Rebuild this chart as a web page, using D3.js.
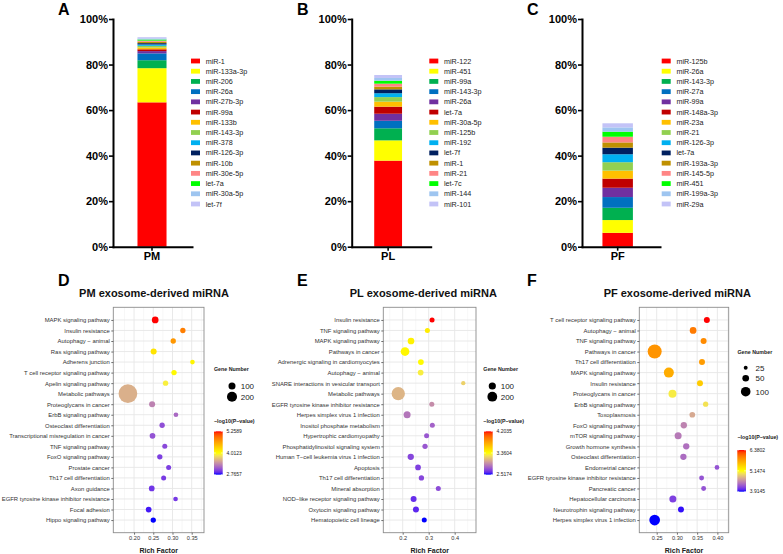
<!DOCTYPE html>
<html><head><meta charset="utf-8">
<script src="https://cdn.jsdelivr.net/npm/d3@7"></script>
<style>
body{margin:0;background:#fff}
svg{display:block}
text{font-family:"Liberation Sans",Arial,Helvetica,sans-serif}
</style>
</head><body>
<svg id="chart" width="783" height="554"></svg>
<script>
// ---------------- DATA ----------------
const barYTicks = [0, 20, 40, 60, 80, 100];
const barColors = ["#FF0000","#FFFF00","#00B050","#0070C0","#7030A0","#C00000","#FFC000","#92D050","#00B0F0","#002060","#BF9000","#FF8585","#00FF00","#9EC5F0","#C3C3F7"];

const pmCategory = ["PM"];
const pmMirnas = ["miR-1","miR-133a-3p","miR-206","miR-26a","miR-27b-3p","miR-99a","miR-133b","miR-143-3p","miR-378","miR-126-3p","miR-10b","miR-30e-5p","let-7a","miR-30a-5p","let-7f"];
const pmValues = [63.4, 15.0, 3.5, 3.0, 1.0, 0.8, 0.8, 0.7, 0.6, 0.6, 0.6, 0.5, 0.5, 0.5, 0.5];

const plCategory = ["PL"];
const plMirnas = ["miR-122","miR-451","miR-99a","miR-143-3p","miR-26a","let-7a","miR-30a-5p","miR-125b","miR-192","let-7f","miR-1","miR-21","let-7c","miR-144","miR-101"];
const plValues = [37.8, 8.9, 5.3, 3.3, 3.1, 3.1, 2.2, 2.0, 1.7, 1.7, 1.2, 1.3, 1.3, 1.2, 1.3];

const pfCategory = ["PF"];
const pfMirnas = ["miR-125b","miR-26a","miR-143-3p","miR-27a","miR-99a","miR-148a-3p","miR-23a","miR-21","miR-126-3p","let-7a","miR-193a-3p","miR-145-5p","miR-451","miR-199a-3p","miR-29a"];
const pfValues = [6.1, 5.6, 5.4, 4.7, 4.1, 4.0, 3.5, 3.7, 3.5, 2.9, 2.3, 2.5, 2.2, 1.9, 1.8];

// Dot plot D (PM)
const pmTerms = ["MAPK signaling pathway","Insulin resistance","Autophagy \u2212 animal","Ras signaling pathway","Adherens junction","T cell receptor signaling pathway","Apelin signaling pathway","Metabolic pathways","Proteoglycans in cancer","ErbB signaling pathway","Osteoclast differentiation","Transcriptional misregulation in cancer","TNF signaling pathway","FoxO signaling pathway","Prostate cancer","Th17 cell differentiation","Axon guidance","EGFR tyrosine kinase inhibitor resistance","Focal adhesion","Hippo signaling pathway"];
const pmRich = [0.255, 0.327, 0.302, 0.251, 0.352, 0.304, 0.282, 0.184, 0.247, 0.309, 0.273, 0.248, 0.280, 0.267, 0.290, 0.277, 0.246, 0.308, 0.238, 0.250];
const pmGenes = [92, 64, 64, 77, 54, 64, 64, 743, 77, 54, 64, 71, 59, 64, 59, 59, 71, 54, 71, 64];
const pmLogP = [5.2589, 4.85, 4.7, 4.2, 4.08, 4.05, 3.93, 3.6, 3.35, 3.22, 3.08, 3.1, 3.05, 3.0, 3.0, 2.98, 2.95, 2.97, 2.83, 2.7657];
const pmXTicks = [0.20, 0.25, 0.30, 0.35];
const pmSizeKeys = [100, 200];
const pmColorTicks = [2.7657, 4.0123, 5.2589];

// Dot plot E (PL)
const plTerms = ["Insulin resistance","TNF signaling pathway","MAPK signaling pathway","Pathways in cancer","Adrenergic signaling in cardiomyocytes","Autophagy \u2212 animal","SNARE interactions in vesicular transport","Metabolic pathways","EGFR tyrosine kinase inhibitor resistance","Herpes simplex virus 1 infection","Inositol phosphate metabolism","Hypertrophic cardiomyopathy","Phosphatidylinositol signaling system","Human T\u2212cell leukemia virus 1 infection","Apoptosis","Th17 cell differentiation","Mineral absorption","NOD\u2212like receptor signaling pathway","Oxytocin signaling pathway","Hematopoietic cell lineage"];
const plRich = [0.313, 0.295, 0.232, 0.209, 0.270, 0.269, 0.433, 0.183, 0.312, 0.217, 0.314, 0.292, 0.286, 0.231, 0.259, 0.272, 0.337, 0.242, 0.251, 0.283];
const plGenes = [47, 47, 85, 153, 61, 61, 36, 398, 47, 94, 47, 47, 52, 75, 61, 52, 47, 67, 67, 47];
const plLogP = [4.2035, 3.45, 3.42, 3.40, 3.38, 3.3, 3.2, 3.1, 2.95, 2.87, 2.8, 2.76, 2.76, 2.7, 2.68, 2.7, 2.72, 2.62, 2.6, 2.5174];
const plXTicks = [0.2, 0.3, 0.4];
const plSizeKeys = [100, 200];
const plColorTicks = [2.5174, 3.3604, 4.2035];

// Dot plot F (PF)
const pfTerms = ["T cell receptor signaling pathway","Autophagy \u2212 animal","TNF signaling pathway","Pathways in cancer","Th17 cell differentiation","MAPK signaling pathway","Insulin resistance","Proteoglycans in cancer","ErbB signaling pathway","Toxoplasmosis","FoxO signaling pathway","mTOR signaling pathway","Growth hormone synthesis","Osteoclast differentiation","Endometrial cancer","EGFR tyrosine kinase inhibitor resistance","Pancreatic cancer","Hepatocellular carcinoma","Neurotrophin signaling pathway","Herpes simplex virus 1 infection"];
const pfRich = [0.374, 0.340, 0.366, 0.245, 0.362, 0.280, 0.357, 0.289, 0.371, 0.338, 0.317, 0.303, 0.323, 0.316, 0.399, 0.361, 0.366, 0.290, 0.310, 0.245];
const pfGenes = [42, 51, 42, 220, 42, 109, 42, 70, 35, 39, 46, 55, 46, 46, 30, 32, 32, 55, 42, 125];
const pfLogP = [6.3802, 6.0, 5.9, 5.85, 5.8, 5.7, 5.5, 5.05, 5.0, 4.7, 4.5, 4.45, 4.4, 4.38, 4.25, 4.25, 4.25, 4.15, 3.95, 3.9145];
const pfXTicks = [0.25, 0.30, 0.35, 0.40];
const pfSizeKeys = [25, 50, 100];
const pfColorTicks = [3.9145, 5.1474, 6.3802];

// ---------------- DRAW ----------------
const svg = d3.select("#chart");
svg.append("rect").attr("width", 783).attr("height", 554).attr("fill", "#fff");

function panelLetter(x, y, t) {
  svg.append("text").attr("x", x).attr("y", y).attr("font-size", 16).attr("font-weight", "bold").text(t);
}

function drawBar(cfg) {
  const g = svg.append("g");
  const y = d3.scaleLinear().domain([0, 100]).range([246.7, 19]);
  const x = d3.scaleBand().domain(cfg.cat).range([cfg.x0, cfg.x0 + cfg.len])
    .paddingInner(0).paddingOuter(cfg.po).align(cfg.align);
  const row = {};
  cfg.names.forEach((n, i) => row[n] = cfg.values[i]);
  const series = d3.stack().keys(cfg.names)([row]);
  g.selectAll("rect.seg").data(series).join("rect").attr("class", "seg")
    .attr("x", x(cfg.cat[0])).attr("width", x.bandwidth())
    .attr("y", d => y(d[0][1])).attr("height", d => y(d[0][0]) - y(d[0][1]))
    .attr("fill", (d, i) => barColors[i]);
  const ay = g.append("g").attr("transform", `translate(${cfg.x0},0)`)
    .call(d3.axisLeft(y).tickValues(barYTicks).tickFormat(d => d + "%").tickSize(4).tickSizeOuter(0).tickPadding(1));
  const ax = g.append("g").attr("transform", `translate(0,${y(0)})`)
    .call(d3.axisBottom(x).tickSize(4).tickSizeOuter(0).tickPadding(2));
  [ay, ax].forEach(a => {
    a.select(".domain").attr("stroke", "#000").attr("stroke-width", 2).attr("stroke-linecap", "square");
    a.selectAll(".tick line").attr("stroke", "#000").attr("stroke-width", 1.6);
    a.selectAll(".tick text").attr("font-size", 11).attr("font-weight", "bold").attr("fill", "#000")
      .attr("font-family", '"Liberation Sans",Arial,sans-serif');
  });
  // legend
  const ly = d3.scalePoint().domain(cfg.names).range([61, 204]);
  const lg = g.append("g");
  lg.selectAll("rect").data(cfg.names).join("rect")
    .attr("x", cfg.lx).attr("y", d => ly(d) - 2.4).attr("width", 9).attr("height", 4.8)
    .attr("fill", (d, i) => barColors[i]);
  lg.selectAll("text").data(cfg.names).join("text")
    .attr("x", cfg.lx + 14.7).attr("y", d => ly(d)).attr("dy", "0.35em")
    .attr("font-size", 7.2).attr("fill", "#222").text(d => d);
}

panelLetter(58, 15, "A");
panelLetter(297, 15, "B");
panelLetter(527, 15, "C");
drawBar({cat: pmCategory, names: pmMirnas, values: pmValues, x0: 113, len: 79, po: 0.86, align: 0.49, lx: 191});
drawBar({cat: plCategory, names: plMirnas, values: plValues, x0: 351.7, len: 79, po: 0.92, align: 0.44, lx: 429.3});
drawBar({cat: pfCategory, names: pfMirnas, values: pfValues, x0: 582, len: 78, po: 0.78, align: 0.43, lx: 661.7});

function drawDot(cfg) {
  const g = svg.append("g");
  const top = 307.3, bottom = 532.7;
  const x = d3.scaleLinear().domain(cfg.xDomain).range([cfg.left, cfg.right]);
  const y = d3.scalePoint().domain(cfg.terms).range([top, bottom]).padding(1.2);
  const cmin = cfg.cTicks[0], cmax = cfg.cTicks[2];
  const color = d3.scaleLinear().domain([cmin, (cmin + cmax) / 2, cmax])
    .range(["blue", "yellow", "red"]).interpolate(d3.interpolateLab).clamp(true);
  const sq = d3.scaleSqrt().domain([0, cfg.g1 - cfg.g0]).range([1, cfg.rMax]);
  const size = v => sq(Math.max(0, v - cfg.g0));

  // panel
  g.append("rect").attr("x", cfg.left).attr("y", top).attr("width", cfg.right - cfg.left).attr("height", bottom - top).attr("fill", "#fff");
  const minor = [];
  for (let i = 0; i < cfg.xTicks.length + 1; i++) {
    const step = cfg.xTicks[1] - cfg.xTicks[0];
    minor.push(cfg.xTicks[0] - step / 2 + i * step);
  }
  g.selectAll("line.minor").data(minor.filter(v => x(v) > cfg.left && x(v) < cfg.right)).join("line")
    .attr("x1", d => x(d)).attr("x2", d => x(d)).attr("y1", top).attr("y2", bottom)
    .attr("stroke", "#F2F2F2").attr("stroke-width", 0.6);
  g.selectAll("line.major").data(cfg.xTicks).join("line")
    .attr("x1", d => x(d)).attr("x2", d => x(d)).attr("y1", top).attr("y2", bottom)
    .attr("stroke", "#E6E6E6").attr("stroke-width", 0.9);
  g.selectAll("line.hgrid").data(cfg.terms).join("line")
    .attr("x1", cfg.left).attr("x2", cfg.right).attr("y1", d => y(d)).attr("y2", d => y(d))
    .attr("stroke", "#E6E6E6").attr("stroke-width", 0.9);

  // points
  const pts = cfg.terms.map((t, i) => ({t, rf: cfg.rich[i], gn: cfg.genes[i], lp: cfg.logp[i]}));
  g.selectAll("circle.pt").data(pts).join("circle")
    .attr("cx", d => x(d.rf)).attr("cy", d => y(d.t)).attr("r", d => size(d.gn))
    .attr("fill", d => color(d.lp));

  g.append("rect").attr("x", cfg.left).attr("y", top).attr("width", cfg.right - cfg.left).attr("height", bottom - top)
    .attr("fill", "none").attr("stroke", "#8C8C8C").attr("stroke-width", 0.9);

  // axes
  const ay = g.append("g").attr("transform", `translate(${cfg.left},0)`)
    .call(d3.axisLeft(y).tickSize(2).tickPadding(1.5).tickSizeOuter(0));
  const ax = g.append("g").attr("transform", `translate(0,${bottom})`)
    .call(d3.axisBottom(x).tickValues(cfg.xTicks).tickFormat(d3.format(cfg.fmt)).tickSize(2).tickPadding(1.5).tickSizeOuter(0));
  [ay, ax].forEach(a => {
    a.select(".domain").remove();
    a.selectAll(".tick line").attr("stroke", "#333").attr("stroke-width", 0.7);
    a.selectAll(".tick text").attr("fill", "#333").attr("font-family", '"Liberation Sans",Arial,sans-serif');
  });
  ay.selectAll(".tick text").attr("font-size", 5.9);
  ax.selectAll(".tick text").attr("font-size", 5.6);

  g.append("text").attr("x", (cfg.left + cfg.right) / 2).attr("y", 553).attr("text-anchor", "middle")
    .attr("font-size", 7).attr("font-weight", "bold").attr("fill", "#222").text("Rich Factor");
  g.append("text").attr("x", cfg.titleX).attr("y", 296.5).attr("text-anchor", "middle")
    .attr("font-size", 11).attr("font-weight", "bold").attr("fill", "#111").text(cfg.title);

  // size legend
  const L = cfg.leg;
  g.append("text").attr("x", L.x).attr("y", L.sizeTitleY).attr("dy", "0.35em").attr("font-size", 5.3)
    .attr("font-weight", "bold").attr("fill", "#222").text("Gene Number");
  cfg.sizeKeys.forEach((k, i) => {
    g.append("circle").attr("cx", L.keyX).attr("cy", L.keyY[i]).attr("r", size(k)).attr("fill", "#000");
    g.append("text").attr("x", L.keyLabX).attr("y", L.keyY[i]).attr("dy", "0.35em").attr("font-size", 8)
      .attr("fill", "#222").text(k);
  });
  // color legend
  g.append("text").attr("x", L.x).attr("y", L.colTitleY).attr("dy", "0.35em").attr("font-size", 5.3)
    .attr("font-weight", "bold").attr("fill", "#222").text("\u2212log10(P\u2212value)");
  const gid = "grad" + cfg.id;
  const grad = svg.append("defs").append("linearGradient").attr("id", gid)
    .attr("x1", 0).attr("y1", 1).attr("x2", 0).attr("y2", 0);
  d3.range(0, 1.0001, 0.05).forEach(t => {
    grad.append("stop").attr("offset", t).attr("stop-color", color(cmin + t * (cmax - cmin)));
  });
  const cb = d3.scaleLinear().domain([cmin, cmax]).range([L.barBottom, L.barTop]);
  g.append("rect").attr("x", L.barX).attr("y", L.barTop).attr("width", 8.7).attr("height", L.barBottom - L.barTop)
    .attr("fill", `url(#${gid})`);
  cfg.cTicks.forEach(v => {
    g.append("line").attr("x1", L.barX).attr("x2", L.barX + 1.8).attr("y1", cb(v)).attr("y2", cb(v)).attr("stroke", "#fff").attr("stroke-width", 0.6);
    g.append("line").attr("x1", L.barX + 6.9).attr("x2", L.barX + 8.7).attr("y1", cb(v)).attr("y2", cb(v)).attr("stroke", "#fff").attr("stroke-width", 0.6);
    g.append("text").attr("x", L.barX + 12.5).attr("y", cb(v)).attr("dy", "0.35em").attr("font-size", 5)
      .attr("fill", "#222").text(v.toFixed(4));
  });
}

panelLetter(58, 285.7, "D");
panelLetter(297, 285.7, "E");
panelLetter(527, 285.7, "F");

drawDot({id: "D", terms: pmTerms, rich: pmRich, genes: pmGenes, logp: pmLogP, xTicks: pmXTicks, fmt: ".2f",
  xDomain: [0.146, 0.382], left: 113.3, right: 204, g0: 36, g1: 743, rMax: 9.35,
  sizeKeys: pmSizeKeys, cTicks: pmColorTicks, title: "PM exosome-derived miRNA", titleX: 154,
  leg: {x: 214, sizeTitleY: 369, keyX: 232, keyLabX: 240.7, keyY: [386, 396.7], colTitleY: 420.7, barX: 214, barTop: 431.3, barBottom: 474.7}});

drawDot({id: "E", terms: plTerms, rich: plRich, genes: plGenes, logp: plLogP, xTicks: plXTicks, fmt: ".1f",
  xDomain: [0.1254, 0.482], left: 383.3, right: 476, g0: 20, g1: 398, rMax: 6.65,
  sizeKeys: plSizeKeys, cTicks: plColorTicks, title: "PL exosome-derived miRNA", titleX: 423.3,
  leg: {x: 483.3, sizeTitleY: 369, keyX: 492.3, keyLabX: 500.7, keyY: [386, 396.7], colTitleY: 420.7, barX: 484, barTop: 431.3, barBottom: 474.7}});

drawDot({id: "F", terms: pfTerms, rich: pfRich, genes: pfGenes, logp: pfLogP, xTicks: pfXTicks, fmt: ".2f",
  xDomain: [0.207, 0.428], left: 639.3, right: 728.7, g0: 20, g1: 220, rMax: 7,
  sizeKeys: pfSizeKeys, cTicks: pfColorTicks, title: "PF exosome-derived miRNA", titleX: 677.3,
  leg: {x: 737.5, sizeTitleY: 352.3, keyX: 745.7, keyLabX: 755.5, keyY: [367.7, 378.3, 391.7], colTitleY: 436.7, barX: 737.3, barTop: 450, barBottom: 491.7}});
</script>
</body></html>
